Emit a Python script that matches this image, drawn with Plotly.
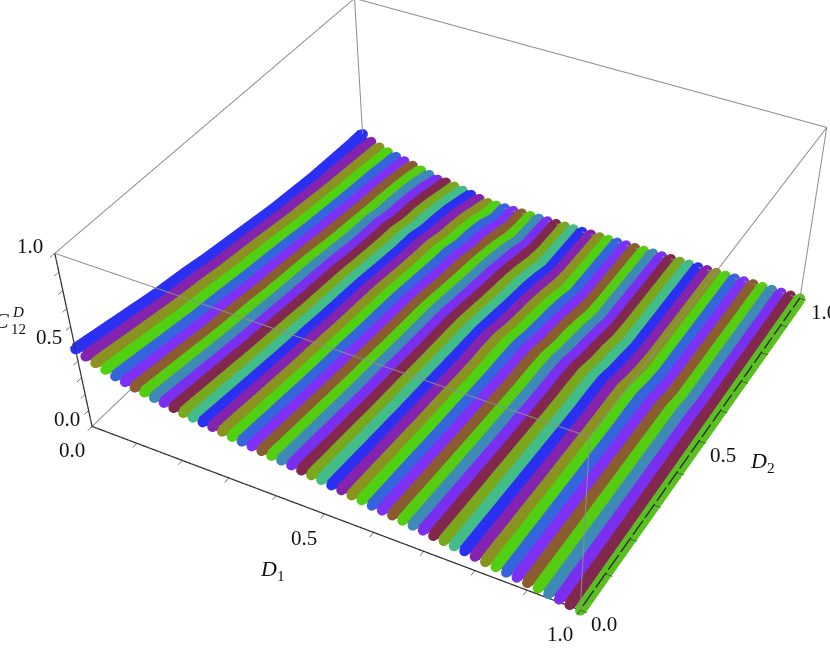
import numpy as np
import plotly.graph_objects as go

# one row per D1 value, one column per D2 value, heights in thousandths
d1_vals = [i / 50 for i in range(51)]
d2_vals = [j / 20 for j in range(21)]
z_rows = [
    [470,450,430,410,390,370,355,340,320,305,290,275,260,245,235,225,215,210,205,200,200],
    [447,428,409,390,371,352,337,323,304,290,276,261,246,230,220,209,198,191,183,174,166],
    [428,410,391,373,355,337,323,309,291,278,264,250,234,219,208,196,183,174,165,155,146],
    [409,392,374,357,339,322,309,296,278,265,252,239,224,207,195,183,171,163,154,142,131],
    [390,374,357,340,324,307,295,282,266,253,241,228,213,197,186,174,163,153,144,131,118],
    [376,360,344,328,312,296,284,272,256,244,232,220,205,190,180,167,155,145,134,122,106],
    [364,349,333,318,302,287,275,264,248,236,225,213,199,184,172,160,147,138,127,112,93],
    [355,340,325,310,294,279,268,257,242,230,219,208,192,176,165,153,141,131,119,103,79],
    [343,329,314,299,285,270,259,248,234,223,212,201,186,171,159,153,131,124,111,93,66],
    [334,320,305,291,277,263,252,241,227,217,206,195,181,165,154,149,125,118,104,83,52],
    [324,311,297,283,269,255,245,235,221,210,200,190,174,160,149,143,119,111,95,72,50],
    [315,302,288,275,261,248,238,228,214,204,194,184,170,157,145,137,113,105,86,62,40],
    [308,295,282,269,255,242,233,223,210,200,190,180,166,152,139,132,108,98,78,56,30],
    [301,288,275,262,250,237,227,218,205,195,186,176,161,147,134,128,102,90,74,48,20],
    [294,281,269,256,244,231,222,213,200,191,181,172,157,142,129,122,96,83,66,38,10],
    [287,275,262,250,238,226,217,207,195,186,177,168,152,137,125,116,90,76,57,28,0],
    [277,266,254,242,230,218,209,201,189,180,171,162,147,132,120,111,83,69,50,16,0],
    [270,259,247,236,224,213,204,196,184,175,167,158,143,129,114,105,77,66,44,5,0],
    [263,252,241,230,218,207,199,190,179,171,162,154,139,124,109,99,71,60,34,0,0],
    [256,245,234,223,213,202,193,185,174,166,158,150,135,118,105,94,65,52,26,0,0],
    [249,239,228,217,207,196,188,180,170,162,154,146,131,114,99,87,68,46,15,0,0],
    [242,232,221,211,201,191,183,175,165,157,149,142,126,109,93,81,62,40,5,0,0],
    [235,225,215,205,195,185,178,170,160,153,145,138,121,103,88,76,55,32,0,0,0],
    [226,216,206,197,187,178,170,163,154,146,139,132,117,98,82,70,49,24,0,0,0],
    [219,209,200,191,181,172,165,158,149,142,135,128,112,93,78,65,43,15,0,0,0],
    [212,203,194,185,176,167,160,153,144,137,131,124,107,88,72,60,37,4,0,0,0],
    [202,194,185,176,168,159,153,146,138,131,125,118,101,83,67,53,30,0,0,0,0],
    [195,187,178,170,162,154,147,141,133,127,125,119,93,78,66,47,23,0,0,0,0],
    [186,178,170,162,154,146,140,134,126,120,120,114,88,74,61,41,15,0,0,0,0],
    [179,171,163,156,148,141,135,129,122,116,115,110,84,70,56,34,3,0,0,0,0],
    [169,162,155,148,140,133,128,122,115,110,109,104,79,64,50,29,0,0,0,0,0],
    [162,155,148,141,135,128,122,117,110,105,105,100,75,64,45,22,0,0,0,0,0],
    [155,149,142,135,129,122,117,112,106,101,101,96,70,59,39,14,0,0,0,0,0],
    [146,140,133,127,121,115,110,105,99,95,95,90,65,54,33,6,0,0,0,0,0],
    [139,133,127,121,115,109,105,100,94,90,91,86,61,47,27,0,0,0,0,0,0],
    [132,126,120,115,109,104,99,95,90,85,86,82,56,42,21,0,0,0,0,0,0],
    [122,117,112,107,101,96,92,88,83,79,80,77,50,36,14,0,0,0,0,0,0],
    [115,110,105,100,96,91,87,83,78,75,76,72,45,31,7,0,0,0,0,0,0],
    [106,101,97,92,88,83,80,77,72,69,70,67,41,26,2,0,0,0,0,0,0],
    [99,95,90,86,82,78,75,71,67,64,66,63,36,20,0,0,0,0,0,0,0],
    [89,86,82,78,74,70,67,65,61,58,60,57,31,14,0,0,0,0,0,0,0],
    [80,77,73,70,66,63,60,58,54,52,54,52,25,8,0,0,0,0,0,0,0],
    [73,70,67,64,60,57,55,53,50,47,50,48,22,0,0,0,0,0,0,0,0],
    [63,61,58,55,53,50,48,46,43,41,44,42,16,0,0,0,0,0,0,0,0],
    [56,54,52,49,47,44,43,41,38,37,35,33,10,0,0,0,0,0,0,0,0],
    [47,45,43,41,39,37,36,34,32,31,29,28,5,0,0,0,0,0,0,0,0],
    [38,36,34,33,31,30,28,27,26,24,23,22,0,0,0,0,0,0,0,0,0],
    [28,27,26,25,23,22,21,20,19,18,17,17,0,0,0,0,0,0,0,0,0],
    [19,18,17,16,16,15,14,14,13,12,12,11,0,0,0,0,0,0,0,0,0],
    [9,9,9,8,8,7,7,7,6,6,6,6,0,0,0,0,0,0,0,0,0],
    [0,0,0,0,0,0,0,0,0,0,0,0,0,0,0,0,0,0,0,0,0],
]
row_colors = ["#2b2ff2", "#8423ad", "#8a9220", "#4fd011", "#3565dd", "#7f30f5", "#8a5c30",
              "#55cc10", "#3c8ab5", "#7a2ff0", "#82284f", "#7aa81c", "#43bd88"]
tick_vals = [i / 10 for i in range(11)]
label_vals = [0.0, 0.5, 1.0]

W, H = 980, 1500
serif = "Liberation Serif"

fig = go.Figure()
for i, row in enumerate(z_rows):
    c = "#5ac020" if i == len(z_rows) - 1 else row_colors[i % len(row_colors)]
    fig.add_trace(go.Scatter3d(x=[d1_vals[i]] * len(d2_vals), y=d2_vals, z=[v / 1000 for v in row],
                               mode="lines+markers", line=dict(color=c, width=24),
                               marker=dict(color=c, size=6), hoverinfo="skip"))

# gray box edges, then the three black axes (y axis lifted a hair so it clears the last row)
lo, hi = 0, 1
edges = []
for a in (lo, hi):
    for b in (lo, hi):
        edges += [([lo, hi], [a, a], [b, b]), ([a, a], [lo, hi], [b, b]), ([a, a], [b, b], [lo, hi])]
for xs, ys, zs in edges:
    fig.add_trace(go.Scatter3d(x=xs, y=ys, z=zs, mode="lines", line=dict(color="#8c8c8c", width=2), hoverinfo="skip"))
for xs, ys, zs in [([0, 1], [0, 0], [0, 0]), ([1, 1], [0, 1], [0.004, 0.004]), ([0, 0], [0, 0], [0, 1])]:
    fig.add_trace(go.Scatter3d(x=xs, y=ys, z=zs, mode="lines", line=dict(color="#222", width=2.5), hoverinfo="skip"))

axis = dict(range=[0, 1], title="", showbackground=False, showgrid=False, zeroline=False,
            showspikes=False, showline=False, ticks="inside", ticklen=6, tickwidth=1, tickcolor="#222",
            tickvals=tick_vals, showticklabels=False)

labels = []
for v in label_vals:
    labels.append(dict(x=v, y=0, z=0, text=f"{v:.1f}", xshift=-20, yshift=-24))
    labels.append(dict(x=1, y=v, z=0, text=f"{v:.1f}", xshift=24, yshift=-14))
    labels.append(dict(x=0, y=0, z=v, text=f"{v:.1f}", xshift=-25, yshift=7))
for a in labels:
    a.update(showarrow=False, font=dict(family=serif, size=21, color="#111"))

titles = [(272, 570, "<i>D</i><sub>1</sub>", 22, "center"), (762, 462, "<i>D</i><sub>2</sub>", 22, "center"),
          (11, 321, "<i>C</i>", 22, "right"), (18, 312, "<i>D</i>", 15, "center"), (18, 329, "12", 15, "center")]
notes = [dict(xref="paper", yref="paper", x=x / W, y=1 - y / H, text=t, showarrow=False, xanchor=xa, yanchor="middle",
              font=dict(family=serif, size=s, color="#111")) for x, y, t, s, xa in titles]

fig.update_layout(width=W, height=H, margin=dict(l=0, r=0, t=0, b=0), showlegend=False,
                  paper_bgcolor="white", annotations=notes,
                  scene=dict(xaxis=axis, yaxis=axis, zaxis=axis, annotations=labels,
                             aspectmode="manual", aspectratio=dict(x=1, y=0.9778, z=0.3722),
                             camera=dict(eye=dict(x=1.3715, y=-2.4340, z=1.9733),
                                         center=dict(x=0.2363, y=-0.3154, z=-0.8770),
                                         up=dict(x=0, y=0, z=1))))

fig.write_html("out.html", config=dict(displayModeBar=False),
               post_script="document.body.style.margin='0';document.documentElement.style.overflow='hidden';")
